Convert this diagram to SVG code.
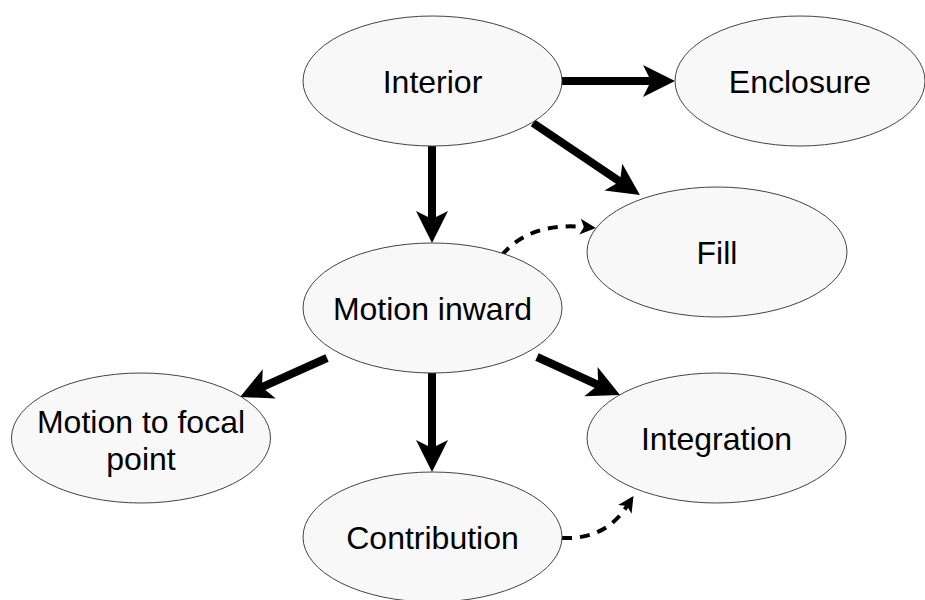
<svg xmlns="http://www.w3.org/2000/svg" width="925" height="600" viewBox="0 0 925 600">
<style>
.node ellipse{fill:#f8f8f8;stroke:#444;stroke-width:1}
.node text{font-family:"Liberation Sans",Arial,sans-serif;font-size:32px;fill:#000;text-anchor:middle}
.solid{fill:none;stroke:#000;stroke-width:8}
.dash{fill:none;stroke:#000;stroke-width:4;stroke-dasharray:10 8}
</style>
<defs>
<marker id="big" markerUnits="userSpaceOnUse" markerWidth="36" markerHeight="36" viewBox="-10 -18 36 36" refX="0" refY="0" orient="auto">
<path d="M24,0 L-8,-16 L0,0 L-8,16 Z" fill="#000"/>
</marker>
<marker id="small" markerUnits="userSpaceOnUse" markerWidth="20" markerHeight="20" viewBox="-6 -10 20 20" refX="0" refY="0" orient="auto">
<path d="M12,0 L-4,-8 L0,0 L-4,8 Z" fill="#000"/>
</marker>
</defs>
<rect width="925" height="600" fill="#fff"/>
<g id="connectors">
<line class="solid" x1="562" y1="81" x2="651" y2="81" marker-end="url(#big)"/>
<line class="solid" x1="432" y1="146" x2="432" y2="219" marker-end="url(#big)"/>
<line class="solid" x1="533" y1="123" x2="620" y2="181.6" marker-end="url(#big)"/>
<path class="dash" d="M502,255 Q530,222 584,227" marker-end="url(#small)"/>
<line class="solid" x1="327" y1="358" x2="262" y2="387.2" marker-end="url(#big)"/>
<line class="solid" x1="432" y1="373" x2="432" y2="448" marker-end="url(#big)"/>
<line class="solid" x1="537" y1="357" x2="598.2" y2="385" marker-end="url(#big)"/>
<path class="dash" d="M562,538 Q605,540 627,506" marker-end="url(#small)"/>
</g>
<g id="interior" class="node"><ellipse cx="432.5" cy="81" rx="129.5" ry="65"/><text x="432.5" y="92.5">Interior</text></g>
<g id="enclosure" class="node"><ellipse cx="800" cy="81" rx="125" ry="65"/><text x="800" y="92.5">Enclosure</text></g>
<g id="fill" class="node"><ellipse cx="717" cy="252" rx="130" ry="65"/><text x="717" y="263.5">Fill</text></g>
<g id="motion-inward" class="node"><ellipse cx="432.5" cy="308" rx="129.5" ry="65"/><text x="432.5" y="319.5">Motion inward</text></g>
<g id="motion-focal" class="node"><ellipse cx="141" cy="438" rx="129.5" ry="65"/><text x="141" y="433">Motion to focal</text><text x="141" y="470">point</text></g>
<g id="contribution" class="node"><ellipse cx="432.5" cy="537" rx="129.5" ry="65"/><text x="432.5" y="548.5">Contribution</text></g>
<g id="integration" class="node"><ellipse cx="716.5" cy="438" rx="129.5" ry="65"/><text x="716.5" y="449.5">Integration</text></g>
</svg>
